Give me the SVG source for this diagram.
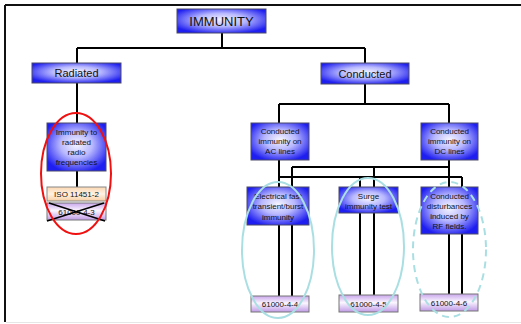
<svg xmlns="http://www.w3.org/2000/svg" width="521" height="324" viewBox="0 0 521 324">
<defs>
<radialGradient id="blue" cx="0.5" cy="0.45" r="0.6">
<stop offset="0" stop-color="#f4f4ff"/>
<stop offset="0.45" stop-color="#b8b8ff"/>
<stop offset="1" stop-color="#1e1ef0"/>
</radialGradient>
<linearGradient id="lav" x1="0" y1="0" x2="0" y2="1">
<stop offset="0" stop-color="#c9a6ec"/>
<stop offset="0.45" stop-color="#fbf6ff"/>
<stop offset="1" stop-color="#c09ae6"/>
</linearGradient>
<linearGradient id="peach" x1="0" y1="0" x2="0" y2="1">
<stop offset="0" stop-color="#fbd7b0"/>
<stop offset="0.5" stop-color="#fff2e4"/>
<stop offset="1" stop-color="#f8cfa4"/>
</linearGradient>
<style>
.b{fill:url(#blue);stroke:#4a4a6a;stroke-width:1}
.l{fill:url(#lav);stroke:#777;stroke-width:1}
.p{fill:url(#peach);stroke:#888;stroke-width:1}
.c{fill:none;stroke:#000;stroke-width:2}
text{font-family:"Liberation Sans",Arial,sans-serif;fill:#111;text-anchor:middle}
.s{font-size:8px}
.m{font-size:11px}
.e{fill:none;stroke:#a9dfe3;stroke-width:2}
</style>
</defs>
<rect x="0" y="0" width="521" height="324" fill="#fff"/>
<g id="frame">
<path d="M5,5 H521 M5,5 V322" fill="none" stroke="#111" stroke-width="2"/>
<path d="M6,322.5 H521" stroke="#e6e6e6" stroke-width="1"/>
</g>
<g id="connectors">
<path class="c" d="M222,33 V48 M77,48 H365 M77,48 V123 M77,171 V187"/>
<path class="c" d="M365,48 V104 M279,104 H449 M279,104 V123 M449,104 V123"/>
<path class="c" d="M279,160 V296 M279,177 H462 M360,177 V295 M462,177 V294"/>
<path class="c" d="M449,160 V294 M292,167 H449 M292,167 V296 M374,167 V295"/>
</g>
<g id="immunity">
<rect class="b" x="177" y="9" width="89" height="24"/>
<text x="221.5" y="26" style="font-size:13px">IMMUNITY</text>
</g>
<g id="radiated">
<rect class="b" x="32" y="63" width="89" height="20"/>
<text class="m" x="76.5" y="77">Radiated</text>
</g>
<g id="conducted">
<rect class="b" x="321" y="63" width="88" height="21"/>
<text class="m" x="365" y="77.5">Conducted</text>
</g>
<g id="immunity-radiated">
<rect class="b" x="47" y="123" width="59" height="48"/>
<text class="s" x="76.5" y="135">Immunity to</text>
<text class="s" x="76.5" y="145">radiated</text>
<text class="s" x="76.5" y="155">radio</text>
<text class="s" x="76.5" y="165">frequencies</text>
</g>
<g id="iso">
<rect class="p" x="47" y="187" width="59" height="14"/>
<text class="s" x="76.5" y="197">ISO 11451-2</text>
</g>
<g id="std-4-3">
<rect class="l" x="47" y="203" width="59" height="17"/>
<text class="s" x="76.5" y="214.5">61000-4-3</text>
<path d="M49,203 L105,221 M104,203 L47,221" stroke="#000" stroke-width="1.5"/>
</g>
<g id="ac">
<rect class="b" x="251" y="123" width="58" height="37"/>
<text class="s" x="280" y="134">Conducted</text>
<text class="s" x="280" y="144">immunity on</text>
<text class="s" x="280" y="154">AC lines</text>
</g>
<g id="dc">
<rect class="b" x="421" y="123" width="57" height="37"/>
<text class="s" x="449.5" y="134">Conducted</text>
<text class="s" x="449.5" y="144">immunity on</text>
<text class="s" x="449.5" y="154">DC lines</text>
</g>
<g id="eft">
<rect class="b" x="247" y="187" width="62" height="38"/>
<text class="s" x="278" y="198.5">Electrical fast</text>
<text class="s" x="278" y="209">transient/burst</text>
<text class="s" x="278" y="219.5">immunity</text>
</g>
<g id="surge">
<rect class="b" x="339" y="187" width="59" height="26"/>
<text class="s" x="368.5" y="198.5">Surge</text>
<text class="s" x="368.5" y="209">immunity test</text>
</g>
<g id="rf">
<rect class="b" x="421" y="187" width="57" height="47"/>
<text class="s" x="449.5" y="198.5">Conducted</text>
<text class="s" x="449.5" y="208.5">disturbances</text>
<text class="s" x="449.5" y="218.5">induced by</text>
<text class="s" x="449.5" y="228.5">RF fields.</text>
</g>
<g id="std-4-4">
<rect class="l" x="251" y="296" width="58" height="16"/>
<text class="s" x="280" y="307">61000-4-4</text>
</g>
<g id="std-4-5">
<rect class="l" x="339" y="295" width="59" height="17"/>
<text class="s" x="368.5" y="306.5">61000-4-5</text>
</g>
<g id="std-4-6">
<rect class="l" x="420" y="294" width="58" height="17"/>
<text class="s" x="449" y="305.5">61000-4-6</text>
</g>
<g id="highlights">
<ellipse cx="76" cy="173.5" rx="35" ry="60.5" fill="none" stroke="#f01010" stroke-width="2"/>
<ellipse class="e" cx="278" cy="250" rx="36" ry="68"/>
<ellipse class="e" cx="368" cy="246.5" rx="36" ry="68.5"/>
<ellipse class="e" cx="449.5" cy="249.5" rx="36.5" ry="67.5" stroke-dasharray="7,5"/>
</g>
</svg>
